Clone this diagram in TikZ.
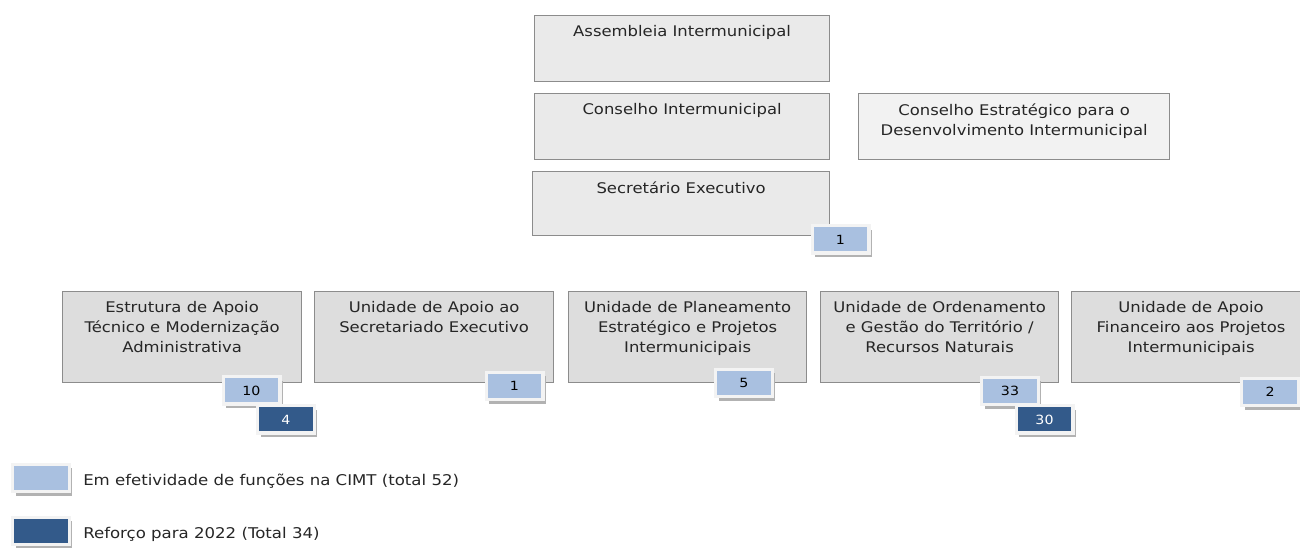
\documentclass[tikz,border=0pt]{standalone}
\usepackage{fontspec}
\setmainfont{DejaVu Sans}[FakeStretch=1.12]
\usetikzlibrary{positioning,shadows}
\definecolor{boxtop}{HTML}{EAEAEA}
\definecolor{boxside}{HTML}{F2F2F2}
\definecolor{boxunit}{HTML}{DDDDDD}
\definecolor{boxline}{HTML}{8C8C8C}
\definecolor{staffnow}{HTML}{A9C0E0}
\definecolor{staffnew}{HTML}{335A8A}
\definecolor{badgeframe}{HTML}{F3F3F3}
\tikzset{
  orgbox/.style={draw=boxline, line width=0.9pt, anchor=north west, inner sep=0pt},
  councilbox/.style={orgbox, fill=boxtop, minimum width=221.25pt, minimum height=49.5pt},
  unitbox/.style={orgbox, fill=boxunit, minimum width=179.25pt, minimum height=68.25pt},
  orgtext/.style={anchor=north, align=center, inner sep=0pt, text=black!85,
    font=\fontsize{11}{15}\selectfont},
  badge/.style={draw=badgeframe, line width=2.6pt, minimum width=42.4pt,
    minimum height=20.6pt, inner sep=0pt, font=\fontsize{9.5}{11}\selectfont,
    drop shadow={shadow xshift=2.4pt, shadow yshift=-3pt, fill=black!30, opacity=1}},
  nowbadge/.style={badge, fill=staffnow},
  newbadge/.style={badge, fill=staffnew, text=white},
  legtext/.style={anchor=west, inner sep=0pt, text=black!85,
    font=\fontsize{11.1}{13}\selectfont},
}
\begin{document}
\begin{tikzpicture}[x=0.75pt,y=-0.75pt]
  \useasboundingbox (0,0) rectangle (1300,548);
  % councils
  \node[councilbox] (assembleia) at (534,15) {};
  \node[orgtext] (assembleiatext) at ([yshift=-7.6pt]assembleia.north) {Assembleia Intermunicipal};
  \node[councilbox] (conselho) at (534,93) {};
  \node[orgtext] (conselhotext) at ([yshift=-7.6pt]conselho.north) {Conselho Intermunicipal};
  \node[councilbox, fill=boxside, minimum width=233.25pt] (estrategico) at (858,93) {};
  \node[orgtext] (estrategicotext) at ([yshift=-7.6pt]estrategico.north) {Conselho Estratégico para o\\Desenvolvimento Intermunicipal};
  \node[councilbox, minimum width=222.75pt, minimum height=48pt] (secretario) at (532,171) {};
  \node[orgtext] (secretariotext) at ([yshift=-7.6pt]secretario.north) {Secretário Executivo};
  % units
  \node[unitbox] (estrutura) at (62,291) {};
  \node[orgtext] (estruturatext) at ([yshift=-7.6pt]estrutura.north) {Estrutura de Apoio\\Técnico e Modernização\\Administrativa};
  \node[unitbox] (secretariado) at (314,291) {};
  \node[orgtext] (secretariadotext) at ([yshift=-7.6pt]secretariado.north) {Unidade de Apoio ao\\Secretariado Executivo};
  \node[unitbox, minimum width=178.5pt] (planeamento) at (568,291) {};
  \node[orgtext] (planeamentotext) at ([yshift=-7.6pt]planeamento.north) {Unidade de Planeamento\\Estratégico e Projetos\\Intermunicipais};
  \node[unitbox, minimum width=178.5pt] (ordenamento) at (820,291) {};
  \node[orgtext] (ordenamentotext) at ([yshift=-7.6pt]ordenamento.north) {Unidade de Ordenamento\\e Gestão do Território /\\Recursos Naturais};
  \node[unitbox] (financeiro) at (1071,291) {};
  \node[orgtext] (financeirotext) at ([yshift=-7.6pt]financeiro.north) {Unidade de Apoio\\Financeiro aos Projetos\\Intermunicipais};
  % staff counts
  \node[nowbadge] (secretarionow) at (840.5,239.5) {1};
  \node[nowbadge] (estruturanow) at (251.5,390.5) {10};
  \node[newbadge] (estruturanew) at (286,419.5) {4};
  \node[nowbadge] (secretariadonow) at (514.5,386) {1};
  \node[nowbadge] (planeamentonow) at (744,383) {5};
  \node[nowbadge] (ordenamentonow) at (1010,391) {33};
  \node[newbadge] (ordenamentonew) at (1044.5,419.5) {30};
  \node[nowbadge] (financeironow) at (1270,392) {2};
  % legend
  \node[nowbadge] (legnow) at (41,478) {};
  \node[legtext] (legnowtext) at (83,481) {Em efetividade de funções na CIMT (total 52)};
  \node[newbadge] (legnew) at (41,531) {};
  \node[legtext] (legnewtext) at (83,534) {Reforço para 2022 (Total 34)};
\end{tikzpicture}
\end{document}
